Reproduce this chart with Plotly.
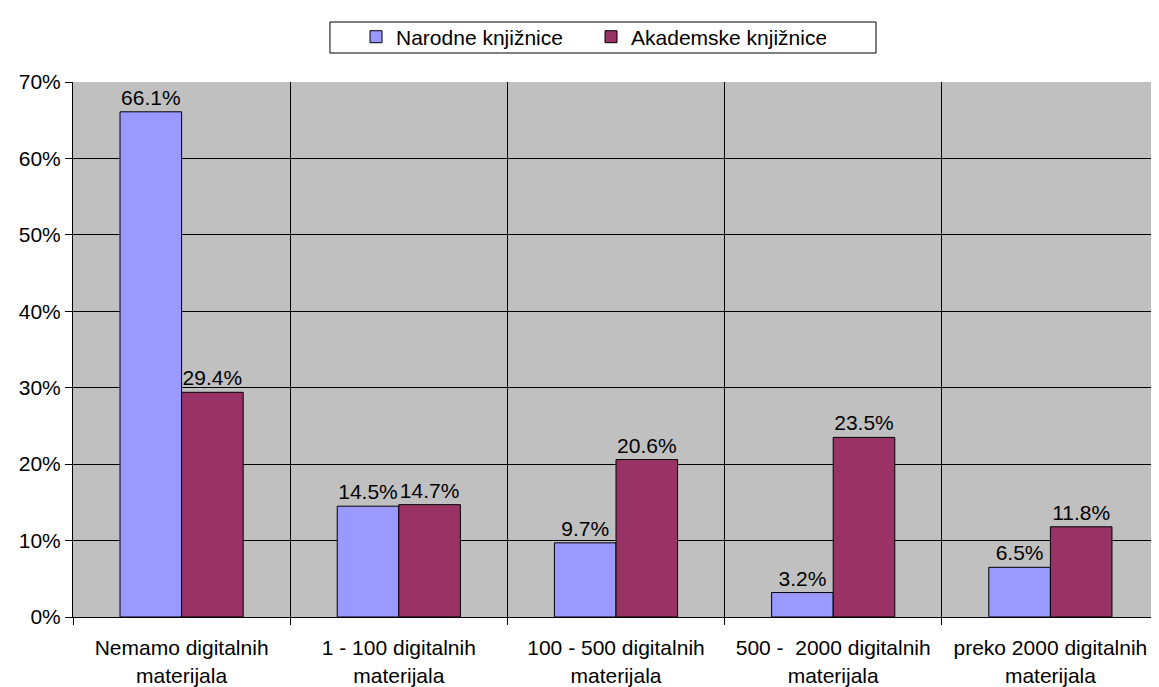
import plotly.graph_objects as go

categories = ["Nemamo digitalnih<br>materijala", "1 - 100 digitalnih<br>materijala",
              "100 - 500 digitalnih<br>materijala", "500 -  2000 digitalnih<br>materijala",
              "preko 2000 digitalnih<br>materijala"]
narodne = [66.1, 14.5, 9.7, 3.2, 6.5]
akademske = [29.4, 14.7, 20.6, 23.5, 11.8]
y_ticks = [0, 10, 20, 30, 40, 50, 60, 70]
y_tick_labels = ["0%", "10%", "20%", "30%", "40%", "50%", "60%", "70%"]

xpos = list(range(len(categories)))
FAM = "Liberation Sans, Arial, sans-serif"
font = dict(family=FAM, size=21, color="black")

fig = go.Figure()
fig.add_trace(go.Bar(x=xpos, y=narodne, name="Narodne knjižnice",
                     marker=dict(color="#9999FF", line=dict(color="black", width=1)),
                     text=[f"{v:.1f}%" for v in narodne], textposition="outside",
                     textfont=font, cliponaxis=False))
fig.add_trace(go.Bar(x=xpos, y=akademske, name="Akademske knjižnice",
                     marker=dict(color="#993366", line=dict(color="black", width=1)),
                     text=[f"{v:.1f}%" for v in akademske], textposition="outside",
                     textfont=font, cliponaxis=False))

# page body has an 8px default margin, so the figure is offset by (8, 8)
fig.update_layout(
    width=1151, height=679,
    margin=dict(l=65, r=0, t=74, b=70, autoexpand=False),
    paper_bgcolor="white", plot_bgcolor="#C0C0C0",
    barmode="group", bargap=0.433, bargroupgap=0,
    font=font,
    uniformtext=dict(mode=False),
    legend=dict(orientation="h", x=0.477, xanchor="center", y=1.084, yanchor="middle",
                borderwidth=0, bgcolor="rgba(0,0,0,0)", entrywidth=190,
                font=dict(family=FAM, size=21, color="black"),
                traceorder="normal"),
    shapes=[dict(type="rect", xref="paper", yref="paper",
                 x0=0.2366, x1=0.7394, y0=1.0542, y1=1.1121,
                 line=dict(color="black", width=1), fillcolor="rgba(0,0,0,0)",
                 layer="below")],
    xaxis=dict(range=[-0.5, 4.5], tickvals=xpos, ticktext=categories, ticks="",
               showgrid=False, showline=True, linecolor="black", linewidth=1,
               tickfont=font, zeroline=False, automargin=False, ticklabelstandoff=12,
               minor=dict(tickvals=[-0.5, 0.5, 1.5, 2.5, 3.5, 4.5], ticks="outside",
                          ticklen=7, tickcolor="black", showgrid=True,
                          gridcolor="black", gridwidth=1)),
    yaxis=dict(range=[0, 70], tickvals=y_ticks, ticktext=y_tick_labels,
               ticks="outside", ticklen=7, tickcolor="black",
               showgrid=True, gridcolor="black", gridwidth=1,
               showline=True, linecolor="black", linewidth=1, zeroline=False,
               tickfont=font, automargin=False),
)

fig.write_html("out.html")
